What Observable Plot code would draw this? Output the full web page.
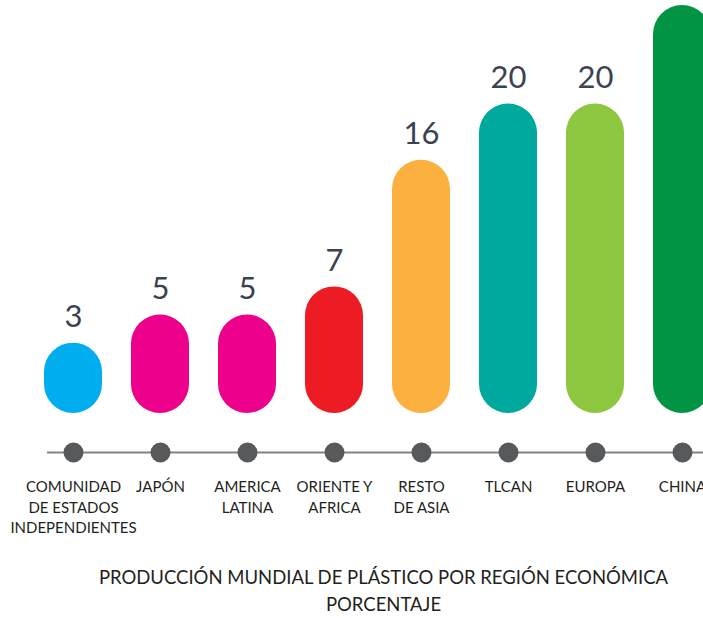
<!DOCTYPE html>
<html>
<head>
<meta charset="utf-8">
<script src="https://cdn.jsdelivr.net/npm/d3@7"></script>
<script src="https://cdn.jsdelivr.net/npm/@observablehq/plot@0.6"></script>
<style>
  html, body { margin: 0; padding: 0; background: #fff; overflow: hidden; }
  #chart svg { display: block; }
  #title {
    margin-left: 64px; width: 639px; margin-top: 24px;
    text-align: center; font-family: Lato, sans-serif; font-size: 18.5px;
    line-height: 27px; color: #231f20;
  }
</style>
</head>
<body>
<div id="chart"></div>
<div id="title">PRODUCCIÓN MUNDIAL DE PLÁSTICO POR REGIÓN ECONÓMICA<br>PORCENTAJE</div>
<script>
const regions = ["COMUNIDAD\nDE ESTADOS\nINDEPENDIENTES", "JAPÓN", "AMERICA\nLATINA", "ORIENTE Y\nAFRICA", "RESTO\nDE ASIA", "TLCAN", "EUROPA", "CHINA"];
const values = [3, 5, 5, 7, 16, 20, 20, 27];
const colors = ["#00aeef", "#ec008c", "#ec008c", "#ed1c24", "#fbb040", "#00a99d", "#8dc63f", "#009444"];
const labelled = [true, true, true, true, true, true, true, false];

const data = regions.map((region, i) => ({region, value: values[i], color: colors[i], labelled: labelled[i]}));
const base = -2;

const chart = Plot.plot({
  width: 703,
  height: 540,
  marginTop: 5,
  marginBottom: 127,
  marginLeft: 27,
  marginRight: -24,
  style: {fontFamily: "Lato, sans-serif", background: "#fff"},
  x: {domain: regions, paddingInner: 0.337, paddingOuter: 0.1686, axis: null},
  y: {domain: [base, 27], axis: null},
  color: {type: "identity"},
  marks: [
    Plot.barY(data, {x: "region", y1: base, y2: "value", fill: "color", rx: 29}),
    Plot.text(data.filter(d => d.labelled), {x: "region", y: "value", text: d => String(d.value), lineAnchor: "bottom", dy: -16, fontSize: 31, fill: "#3b4252"}),
    Plot.ruleY([base], {dy: 39, stroke: "#808285", strokeWidth: 2, insetLeft: 20}),
    Plot.dot(data, {x: "region", frameAnchor: "bottom", dy: 39, r: 10, fill: "#58595b"}),
    Plot.text(data, {x: "region", text: "region", frameAnchor: "bottom", dy: 64, lineAnchor: "top", lineHeight: 1.37, fontSize: 15, fill: "#231f20"})
  ]
});
document.getElementById("chart").appendChild(chart);
</script>
</body>
</html>
